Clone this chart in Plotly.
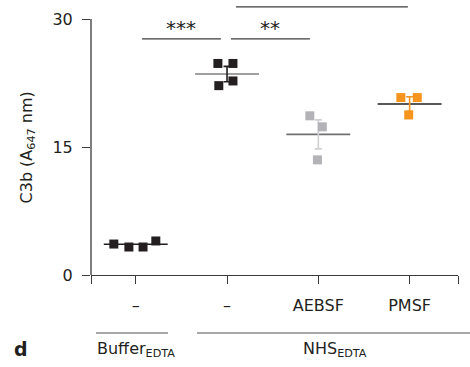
import plotly.graph_objects as go

# ---- data ----
groups = ["Buffer", "NHS", "AEBSF", "PMSF"]
tick_labels = ["–", "–", "AEBSF", "PMSF"]
buffer_vals = [3.63, 3.28, 3.28, 3.99]
nhs_vals = [24.8, 24.8, 22.75, 22.2]
aebsf_vals = [18.66, 17.37, 13.5]
pmsf_vals = [20.8, 20.8, 18.76]
means = [3.6, 23.56, 16.49, 20.05]
sems = [0.0, 0.9, 1.7, 0.85]

# horizontal jitter of each point (category units)
buffer_jit = [-0.24, -0.075, 0.08, 0.22]
nhs_jit = [-0.1, 0.065, 0.065, -0.09]
aebsf_jit = [-0.093, 0.044, -0.01]
pmsf_jit = [-0.096, 0.084, -0.01]

BLACK = "#231f20"
GRAY = "#b3b3b7"
ORANGE = "#f7941d"
AXIS = "#3a3a3a"
FONT = "DejaVu Sans"
FS = 16

point_sets = [
    (buffer_vals, buffer_jit, BLACK),
    (nhs_vals, nhs_jit, BLACK),
    (aebsf_vals, aebsf_jit, GRAY),
    (pmsf_vals, pmsf_jit, ORANGE),
]
mean_colors = [BLACK, "#808080", "#707070", BLACK]
err_colors = [BLACK, BLACK, "#cfcfd2", ORANGE]

fig = go.Figure()

# mean lines
for i, m in enumerate(means):
    fig.add_trace(go.Scatter(
        x=[i - 0.35, i + 0.35], y=[m, m], mode="lines",
        line=dict(color=mean_colors[i], width=1.6), hoverinfo="skip", showlegend=False))

# error bars
for i, (m, s) in enumerate(zip(means, sems)):
    if s <= 0:
        continue
    fig.add_trace(go.Scatter(
        x=[i], y=[m], mode="markers", marker=dict(size=0.1, opacity=0),
        error_y=dict(type="data", array=[s], visible=True, color=err_colors[i],
                     thickness=1.6, width=3.5),
        hoverinfo="skip", showlegend=False))

# points
for i, (vals, jit, col) in enumerate(point_sets):
    fig.add_trace(go.Scatter(
        x=[i + j for j in jit], y=vals, mode="markers",
        marker=dict(symbol="square", size=9, color=col, line=dict(width=0)),
        showlegend=False, name=groups[i]))

shapes = [
    # y-axis line (stops at 30)
    dict(type="line", xref="paper", yref="y", x0=0, x1=0, y0=0, y1=30,
         line=dict(color=AXIS, width=1.3)),
    # significance bars
    dict(type="line", xref="x", yref="y", x0=0.068, x1=0.933, y0=27.69, y1=27.69,
         line=dict(color="#3c3c3c", width=1.2)),
    dict(type="line", xref="x", yref="y", x0=1.043, x1=1.908, y0=27.69, y1=27.69,
         line=dict(color="#3c3c3c", width=1.2)),
    dict(type="line", xref="x", yref="y", x0=1.098, x1=2.981, y0=31.44, y1=31.44,
         line=dict(color="#3c3c3c", width=1.2)),
    # group bracket lines
    dict(type="line", xref="x", yref="paper", x0=-0.435, x1=0.353, y0=-0.211, y1=-0.211,
         line=dict(color="#8a8a8a", width=1.5)),
    dict(type="line", xref="paper", yref="paper", x0=0.289, x1=1.04, y0=-0.211, y1=-0.211,
         line=dict(color="#8a8a8a", width=1.5)),
]

annotations = [
    dict(text="***", x=0.5, y=29.0, xref="x", yref="y", showarrow=False,
         font=dict(family=FONT, size=20, color=BLACK)),
    dict(text="**", x=1.475, y=29.0, xref="x", yref="y", showarrow=False,
         font=dict(family=FONT, size=20, color=BLACK)),
    dict(text="C3b (A<sub>647</sub> nm)", x=-0.1744, y=14.95, xref="paper", yref="y",
         textangle=-90, showarrow=False, xanchor="center", yanchor="middle",
         font=dict(family=FONT, size=FS, color=BLACK)),
    dict(text="<b>d</b>", x=-0.19, y=-0.318, xref="paper", yref="paper",
         xanchor="center", showarrow=False, font=dict(family=FONT, size=19, color=BLACK)),
    dict(text="Buffer<sub>EDTA</sub>", x=0, y=-0.315, xref="x", yref="paper",
         showarrow=False, font=dict(family=FONT, size=FS, color=BLACK)),
    dict(text="NHS<sub>EDTA</sub>", x=2.18, y=-0.315, xref="x", yref="paper",
         showarrow=False, font=dict(family=FONT, size=FS, color=BLACK)),
]

fig.update_layout(
    width=470, height=367,
    margin=dict(l=91, r=12, t=0, b=92),
    paper_bgcolor="white", plot_bgcolor="white",
    font=dict(family=FONT, size=FS, color=BLACK),
    shapes=shapes, annotations=annotations,
    xaxis=dict(range=[-0.49, 3.53], showgrid=False, zeroline=False,
               showline=True, linecolor=AXIS, linewidth=1.3,
               ticks="outside", ticklen=8, tickcolor=AXIS, tickwidth=1.3,
               tickvals=[0, 1, 2, 3], ticktext=tick_labels,
               ticklabelstandoff=8,
               minor=dict(tickvals=[-0.49, 3.53], ticks="outside", ticklen=8,
                          tickcolor=AXIS, tickwidth=1.3, showgrid=False),
               tickfont=dict(family=FONT, size=FS, color=BLACK)),
    yaxis=dict(range=[0, 32.24], showgrid=False, zeroline=False, showline=False,
               ticks="outside", ticklen=8, tickcolor=AXIS, tickwidth=1.3,
               tickvals=[0, 15, 30], ticktext=["0", "15", "30"],
               ticklabelstandoff=6,
               tickfont=dict(family=FONT, size=FS, color=BLACK)),
)

fig.write_html("out.html", config={"displayModeBar": False},
               post_script="document.body.style.margin='0';")
